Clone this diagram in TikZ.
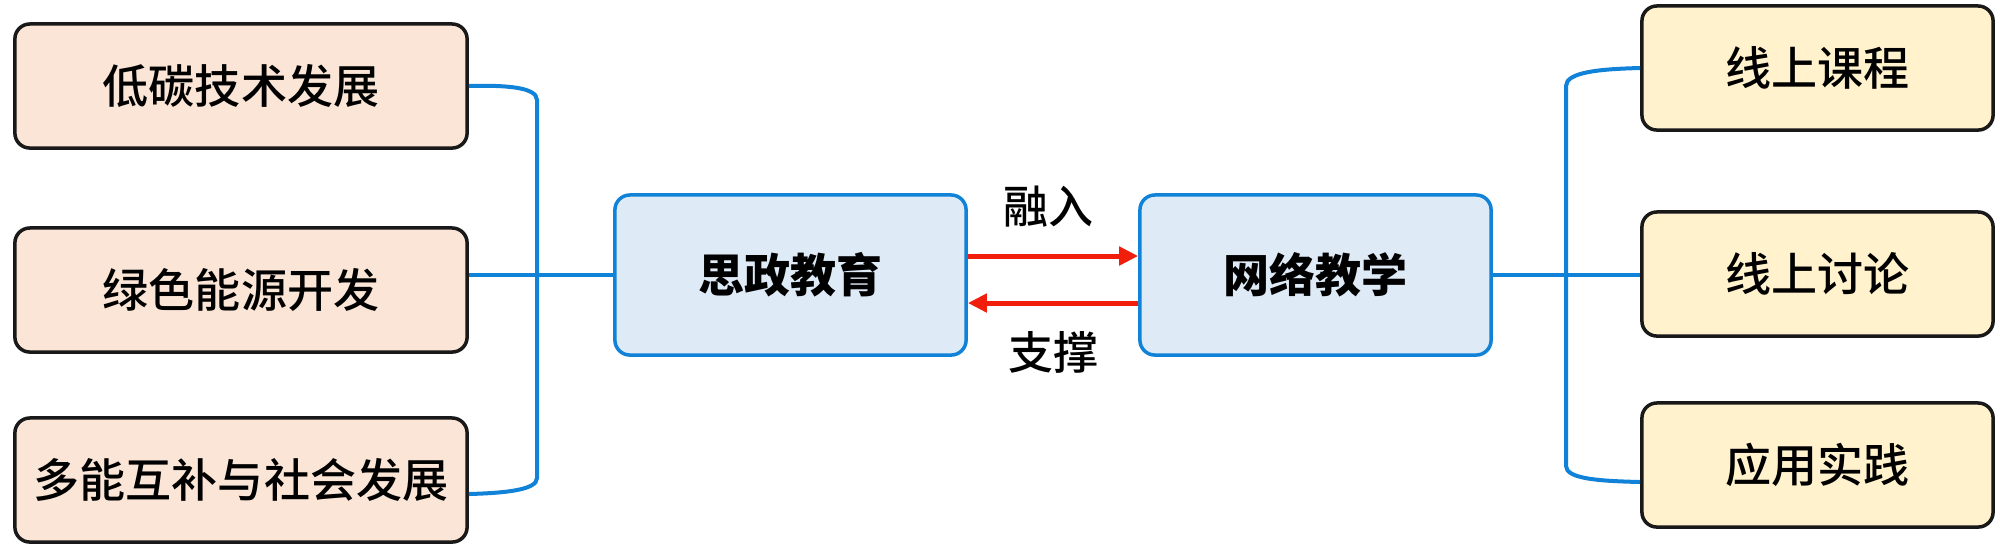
\documentclass[tikz,border=0pt]{standalone}
\usepackage{fontspec}
\setmainfont{Noto Sans CJK SC Medium}[BoldFont={Noto Sans CJK SC Black}]
\usetikzlibrary{arrows.meta,calc}
\definecolor{peach}{RGB}{251,229,214}
\definecolor{cream}{RGB}{255,242,204}
\definecolor{paleblue}{RGB}{222,235,247}
\definecolor{linkblue}{RGB}{16,130,215}
\definecolor{arrred}{RGB}{240,30,10}
\tikzset{
  base/.style={draw, rounded corners=0.15cm, line width=0.035cm, inner sep=0pt,
    font=\fontsize{13.1pt}{15pt}\selectfont},
  leftbox/.style={base, fill=peach, draw=black!90, minimum width=4.52cm, minimum height=1.24cm},
  rightbox/.style={base, fill=cream, draw=black!90, minimum width=3.51cm, minimum height=1.24cm},
  centerbox/.style={base, fill=paleblue, draw=linkblue, minimum width=3.51cm, minimum height=1.6cm,
    font=\fontsize{13.1pt}{15pt}\selectfont\bfseries},
  link/.style={draw=linkblue, line width=0.04cm},
  redarrow/.style={draw=arrred, line width=0.05cm, -{Triangle[length=0.19cm,width=0.18cm]}},
  lbl/.style={font=\fontsize{12.8pt}{15pt}\selectfont, inner sep=0pt}
}
\begin{document}
\begin{tikzpicture}[x=0.01cm,y=-0.01cm]
\useasboundingbox (0,0) rectangle (2000,550);
% left boxes
\node[leftbox] (L1) at (241,86) {低碳技术发展};
\node[leftbox] (L2) at (241,290) {绿色能源开发};
\node[leftbox] (L3) at (241,480) {多能互补与社会发展};
% center boxes
\node[centerbox] (C1) at (790.5,275) {思政教育};
\node[centerbox] (C2) at (1315.5,275) {网络教学};
% right boxes
\node[rightbox] (R1) at (1817.5,68) {线上课程};
\node[rightbox] (R2) at (1817.5,274) {线上讨论};
\node[rightbox] (R3) at (1817.5,465) {应用实践};
% labels
\node[lbl] (in) at (1048,207) {融入};
\node[lbl] (su) at (1053,352) {支撑};
% left bracket
\coordinate (lb3) at ($(L3.east)+(0,14)$);
\draw[link] (L1.east) .. controls (505,85) and (537,87) .. (537,100) -- (537,478)
  .. controls (537,490) and (505,493) .. (lb3);
\draw[link] (C1.west) -- (C1.west -| L2.east);
% right bracket
\coordinate (rb3) at ($(R3.west)+(0,17)$);
\draw[link] (R1.west) .. controls (1600,69) and (1566,72) .. (1566,86) -- (1566,466)
  .. controls (1566,479) and (1600,481) .. (rb3);
\draw[link] (C2.east) -- (C2.east -| R2.west);
% red arrows
\draw[redarrow] ($(C1.east)+(0,-19)$) -- ($(C2.west)+(0,-19)$);
\draw[redarrow] ($(C2.west)+(0,28)$) -- ($(C1.east)+(0,28)$);
\end{tikzpicture}
\end{document}
